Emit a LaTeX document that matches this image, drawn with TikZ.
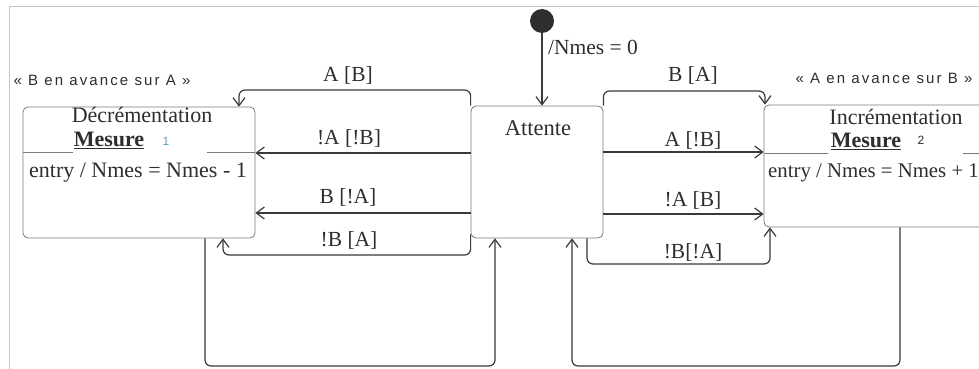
\documentclass[tikz,border=0pt]{standalone}
\usepackage{fontspec}
\setmainfont{Liberation Serif}
\newfontfamily\tagfont[LetterSpace=14]{Liberation Sans}
\newfontfamily\numfont{Liberation Sans}
\usetikzlibrary{arrows.meta}
\definecolor{ink}{HTML}{2E2E2E}
\definecolor{edge}{HTML}{3A3A3A}
\definecolor{boxline}{HTML}{7A7A7A}
\definecolor{frameline}{HTML}{C4C4C4}
\definecolor{numblue}{HTML}{5E9CC4}
\tikzset{
  statebox/.style={draw=boxline, line width=0.8pt, rounded corners=5pt, fill=white, inner sep=0pt},
  tr/.style={draw=edge, line width=1.2pt, rounded corners=6pt, -{Straight Barb[length=8pt,width=12pt]}},
  txt/.style={text=ink, inner sep=0pt, font=\fontsize{22}{26}\selectfont},
  lbl/.style={text=ink, inner sep=0pt, font=\fontsize{21.5}{25}\selectfont},
  tag/.style={text=ink, inner sep=0pt, font=\tagfont\fontsize{15}{18}\selectfont},
  num/.style={inner sep=0pt, font=\numfont\fontsize{12}{14}\selectfont},
  divider/.style={draw=boxline, line width=0.8pt}
}
\begin{document}
\begin{tikzpicture}[x=1pt, y=-1pt]
\path[use as bounding box, clip] (0,0) rectangle (979,369);
\fill[white] (0,0) rectangle (979,369);
% sheet border
\draw[frameline, line width=1pt] (9,369) -- (9,7) -- (979,7);

% states
\node[statebox, minimum width=232pt, minimum height=131pt] (dec) at (139,172.5) {};
\node[statebox, minimum width=132pt, minimum height=132pt] (att) at (537,172) {};
\node[statebox, minimum width=246pt, minimum height=122pt] (inc) at (887,166) {};
\node[circle, fill=ink, minimum size=24pt, inner sep=0pt] (init) at (542,21) {};

% state texts
\node[txt] (dectitle) at (142,115) {Décrémentation};
\node[txt] (decname) at (109,140) {\underline{\textbf{Mesure}}};
\node[num, text=numblue] (decnum) at (166,141) {1};
\node[txt] (decentry) at (138,173) {entry / Nmes = Nmes - 1};
\draw[divider] (dec.west |- 0,152) -- (73,152);
\draw[divider] (207,152) -- (dec.east |- 0,152);

\node[txt, font=\fontsize{22.5}{26}\selectfont] (atttitle) at (538,128) {Attente};

\node[txt] (inctitle) at (896,117) {Incrémentation};
\node[txt] (incname) at (866,141) {\underline{\textbf{Mesure}}};
\node[num, text=ink] (incnum) at (921,140) {2};
\node[txt, anchor=west, font=\fontsize{20.8}{25}\selectfont] (incentry) at (768,173) {entry / Nmes = Nmes + 1};
\draw[divider] (inc.west |- 0,153) -- (828,153);
\draw[divider] (963,153) -- (inc.east |- 0,153);

% stereotypes
\node[tag] (tagdec) at (102,80) {« B en avance sur A »};
\node[tag] (taginc) at (884,78) {« A en avance sur B »};

% initial transition
\draw[tr] (init) -- (att.north -| init);
\node[lbl, anchor=west] (initlbl) at (548,47) {/Nmes = 0};

% transitions towards the decrement state
\draw[tr] (att.north west) |- (239,90) -- (dec.north -| 239,0);
\node[lbl] (l1) at (348,75) {A [B]};
\draw[tr] (att.west |- 0,153) -- (dec.east |- 0,153);
\node[lbl] (l2) at (349,138) {!A [!B]};
\draw[tr] (att.west |- 0,213) -- (dec.east |- 0,213);
\node[lbl] (l3) at (348,197) {B [!A]};
\draw[tr] ([yshift=4pt]att.south west) |- (223,255) -- (dec.south -| 223,0);
\node[lbl] (l4) at (349,240) {!B [A]};
\draw[tr] (dec.south -| 205,0) |- (495,366) -- (att.south -| 495,0);

% transitions towards the increment state
\draw[tr] (att.north east) |- (765,91) -- (inc.north -| 765,0);
\node[lbl] (r1) at (693,75) {B [A]};
\draw[tr] (att.east |- 0,152) -- (inc.west |- 0,152);
\node[lbl] (r2) at (693,140) {A [!B]};
\draw[tr] (att.east |- 0,214) -- (inc.west |- 0,214);
\node[lbl] (r3) at (693,200) {!A [B]};
\draw[tr] (att.south -| 587,0) |- (770,264) -- (inc.south -| 770,0);
\node[lbl] (r4) at (693,252) {!B[!A]};
\draw[tr] (inc.south -| 900,0) |- (572,366) -- (att.south -| 572,0);
\end{tikzpicture}
\end{document}
